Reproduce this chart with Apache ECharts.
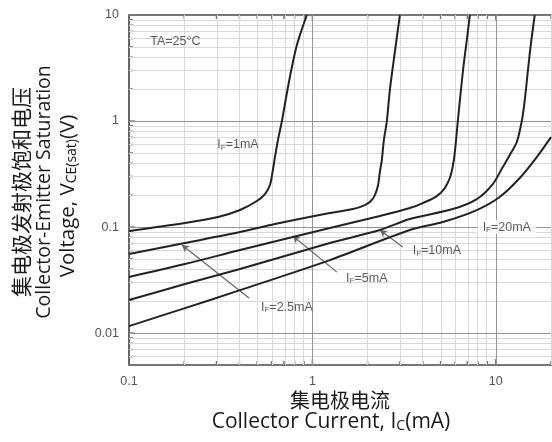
<!DOCTYPE html>
<html><head><meta charset="utf-8">
<script src="https://cdn.jsdelivr.net/npm/echarts@6/dist/echarts.min.js"></script>
<style>html,body{margin:0;padding:0;background:#fff}#c{width:552px;height:442px}</style>
</head><body><div id="c"></div>
<script>
// ---- axis ranges / ticks (real units) ----
const X_MIN = 0.1, X_MAX = 20, Y_MIN = 0.005, Y_MAX = 10;
const xTickLabels = [0.1, 1, 10];
const yTickLabels = [0.01, 0.1, 1, 10];
const xMajorGrid = [1, 10];
const xMinorGrid = [0.2,0.3,0.4,0.5,0.6,0.7,0.8,0.9,2,3,4,5,6,7,8,9,20];
const yMajorGrid = [0.01, 0.1, 1];
const yMinorGrid = [0.006,0.007,0.008,0.009,0.02,0.03,0.04,0.05,0.06,0.07,0.08,0.09,0.2,0.3,0.4,0.5,0.6,0.7,0.8,0.9,2,3,4,5,6,7,8,9];

// ---- curves: collector current (mA) vs VCE(sat) (V) ----
const seriesNames = ['IF=1mA','IF=2.5mA','IF=5mA','IF=10mA','IF=20mA'];
const ic1  = [0.1, 0.202, 0.306, 0.403, 0.498, 0.551, 0.587, 0.609, 0.625, 0.649, 0.682, 0.726, 0.773, 0.823, 0.877, 0.933];
const vce1 = [0.0917, 0.109, 0.1243, 0.1447, 0.176, 0.2048, 0.249, 0.345, 0.457, 0.662, 1.0, 1.84, 3.23, 5.21, 7.38, 10];
const ic2  = [0.1, 0.202, 0.403, 0.625, 1.245, 1.663, 1.932, 2.084, 2.191, 2.275, 2.333, 2.391, 2.453, 2.547, 2.644, 2.816, 3.0];
const vce2 = [0.0556, 0.0707, 0.0897, 0.1067, 0.1355, 0.1478, 0.1613, 0.176, 0.2003, 0.2436, 0.3303, 0.4287, 0.6617, 1.0, 1.961, 4.477, 10];
const ic3  = [0.1, 0.202, 0.403, 0.783, 1.245, 2.333, 3.4, 4.0, 4.77, 5.27, 5.615, 5.83, 5.98, 6.21, 6.61, 6.95, 7.22];
const vce3 = [0.0338, 0.0448, 0.0607, 0.0805, 0.0979, 0.127, 0.151, 0.1684, 0.196, 0.2333, 0.29, 0.376, 0.51, 1.0, 2.9, 5.81, 10];
const ic4  = [0.1, 0.202, 0.403, 1.245, 2.333, 3.4, 5.83, 7.88, 9.63, 10.92, 11.92, 13.02, 13.86, 14.39, 14.94, 15.51, 16.31];
const vce4 = [0.0205, 0.029, 0.0402, 0.0707, 0.0937, 0.119, 0.1478, 0.1837, 0.2544, 0.368, 0.4777, 0.6337, 1.0, 1.578, 2.9, 5.21, 10];
const ic5  = [0.1, 0.202, 0.403, 1.245, 3.4, 5.14, 7.88, 10.5, 13.51, 16.73, 20];
const vce5 = [0.01164, 0.0172, 0.0254, 0.0488, 0.0937, 0.1115, 0.1447, 0.192, 0.29, 0.4575, 0.706];

// ---- annotations (data units) ----
const noteTexts = ['TA=25°C', '1mA', '2.5mA', '5mA', '10mA', '20mA'];
const noteX = [0.179, 0.393, 0.726, 1.98, 4.77, 11.48];
const noteY = [5.56, 0.594, 0.0176, 0.033, 0.0594, 0.1];
const arrowFromX = [0.451, 1.36, 3.11];
const arrowFromY = [0.0214, 0.0376, 0.0648];
const arrowToX = [0.1944, 0.783, 2.333];
const arrowToY = [0.0677, 0.0823, 0.0937];

const L = Math.log10;
const curves = [[ic1,vce1],[ic2,vce2],[ic3,vce3],[ic4,vce4],[ic5,vce5]];
const fmt = v => String(Number(Math.pow(10, v).toPrecision(3)));

const chart = echarts.init(document.getElementById('c'), null, {renderer: 'canvas'});
const lineSeries = curves.map((c, k) => ({
  name: seriesNames[k], type: 'line', showSymbol: false, smooth: 0.3,
  lineStyle: {color: '#222', width: 2}, z: 5,
  data: c[0].map((x, i) => [L(x), L(c[1][i])])
}));

const gridSeries = {
  type: 'line', data: [[L(X_MIN), L(Y_MIN)]], showSymbol: false, silent: true,
  lineStyle: {opacity: 0}, z: 1,
  markLine: {
    silent: true, symbol: 'none', label: {show: false}, animation: false,
    data: xMinorGrid.map(v => ({xAxis: L(v), lineStyle: {color: '#d9d9d9', width: 1, type: 'solid'}}))
      .concat(yMinorGrid.map(v => ({yAxis: L(v), lineStyle: {color: '#d9d9d9', width: 1, type: 'solid'}})))
      .concat(xMajorGrid.map(v => ({xAxis: L(v), lineStyle: {color: '#949494', width: 1, type: 'solid'}})))
      .concat(yMajorGrid.map(v => ({yAxis: L(v), lineStyle: {color: '#949494', width: 1, type: 'solid'}})))
  }
};

const tickSeriesX = {
  type: 'custom', silent: true, clip: false, z: 3,
  data: xMinorGrid.map(v => [L(v), 0]).concat(xMajorGrid.map(v => [L(v), 1])),
  renderItem: (params, api) => {
    const x = api.value(0), major = api.value(1);
    const len = major ? 6 : 4;
    const b = api.coord([x, L(Y_MIN)]), t = api.coord([x, L(Y_MAX)]);
    const st = {stroke: '#777', lineWidth: 1.5};
    return {type: 'group', children: [
      {type: 'line', shape: {x1: b[0], y1: b[1], x2: b[0], y2: b[1] - len}, style: st},
      {type: 'line', shape: {x1: t[0], y1: t[1], x2: t[0], y2: t[1] + len}, style: st}
    ]};
  }
};
const tickSeriesY = {
  type: 'custom', silent: true, clip: false, z: 3,
  data: yMinorGrid.map(v => [L(v), 0]).concat(yMajorGrid.map(v => [L(v), 1])),
  renderItem: (params, api) => {
    const y = api.value(0), major = api.value(1);
    const len = major ? 6 : 4;
    const p = api.coord([L(X_MIN), y]);
    return {type: 'line', shape: {x1: p[0], y1: p[1], x2: p[0] + len, y2: p[1]}, style: {stroke: '#777', lineWidth: 1.5}};
  }
};

const richNote = {
  a: {fontSize: 12.5, color: '#333', fontFamily: 'Liberation Sans', lineHeight: 14},
  s: {fontSize: 8, color: '#333', fontFamily: 'Liberation Sans', verticalAlign: 'bottom', lineHeight: 10, padding: [5, 0, 0, 0]}
};
const noteSeries = {
  type: 'scatter', silent: true, symbolSize: 0, z: 6,
  data: noteTexts.map((t, i) => ({value: [L(noteX[i]), L(noteY[i])], name: t})),
  label: {
    show: true, position: 'inside', color: '#333',
    formatter: p => p.dataIndex === 0 ? '{a|' + p.name + '}' : '{a|I}{s|F}{a|=' + p.name + '}',
    rich: richNote
  }
};
noteSeries.data[5].label = {backgroundColor: '#fff', padding: [0, 5, 0, 5]};

const arrowSeries = {
  type: 'line', data: [[L(X_MIN), L(Y_MIN)]], showSymbol: false, silent: true, lineStyle: {opacity: 0}, z: 4,
  markLine: {
    silent: true, symbol: ['none', 'arrow'], symbolSize: [6, 7], label: {show: false}, animation: false,
    lineStyle: {color: '#666', width: 1.2, type: 'solid'},
    data: arrowFromX.map((x, i) => [{coord: [L(x), L(arrowFromY[i])]}, {coord: [L(arrowToX[i]), L(arrowToY[i])]}])
  }
};

const EN = 'Open Sans';
const subRich = (fs, sfs, pad) => ({
  t: {fontSize: fs, fontFamily: EN, fill: '#1a1a1a'},
  sub: {fontSize: sfs, fontFamily: EN, fill: '#1a1a1a', verticalAlign: 'bottom', padding: [pad, 0, 0, 0]}
});

chart.setOption({
  animation: false,
  grid: {left: 129, top: 15, right: 1, bottom: 77, containLabel: false},
  xAxis: [{
    type: 'value', min: L(X_MIN), max: L(X_MAX),
    axisLine: {show: true, onZero: false, lineStyle: {color: '#777', width: 2}},
    axisTick: {show: false}, splitLine: {show: false},
    axisLabel: {customValues: xTickLabels.map(L), formatter: fmt, color: '#555', fontSize: 12.5, margin: 10, fontFamily: 'Liberation Sans'}
  }, {
    type: 'value', position: 'top', min: L(X_MIN), max: L(X_MAX),
    axisLine: {show: true, onZero: false, lineStyle: {color: '#777', width: 2}},
    axisTick: {show: false}, splitLine: {show: false}, axisLabel: {show: false}
  }],
  yAxis: {
    type: 'value', min: L(Y_MIN), max: L(Y_MAX),
    axisLine: {show: true, onZero: false, lineStyle: {color: '#666', width: 2}},
    axisTick: {show: false}, splitLine: {show: false},
    axisLabel: {customValues: yTickLabels.map(L), formatter: fmt, color: '#555', fontSize: 12.5, margin: 10, fontFamily: 'Liberation Sans'}
  },
  graphic: [
    {type: 'text', x: 21, y: 192, rotation: Math.PI / 2, style: {text: '集电极发射极饱和电压', font: '21px "Noto Sans CJK SC"', fill: '#1a1a1a', align: 'center', verticalAlign: 'middle'}},
    {type: 'text', x: 44, y: 192, rotation: Math.PI / 2, style: {text: 'Collector-Emitter Saturation', font: '19.5px "Open Sans"', fill: '#1a1a1a', align: 'center', verticalAlign: 'middle'}},
    {type: 'text', x: 68, y: 196, rotation: Math.PI / 2, style: {text: '{t|Voltage, V}{sub|CE(sat)}{t|(V)}', rich: subRich(20.5, 14, 8), align: 'center', verticalAlign: 'middle'}},
    {type: 'text', x: 340, y: 400, style: {text: '集电极电流', font: '20px "Noto Sans CJK SC"', fill: '#1a1a1a', align: 'center', verticalAlign: 'middle'}},
    {type: 'text', x: 331, y: 422, style: {text: '{t|Collector Current, I}{sub|C}{t|(mA)}', rich: subRich(21, 14, 9), align: 'center', verticalAlign: 'middle'}}
  ],
  series: [gridSeries, tickSeriesX, tickSeriesY].concat(lineSeries, [arrowSeries, noteSeries])
});
</script></body></html>
